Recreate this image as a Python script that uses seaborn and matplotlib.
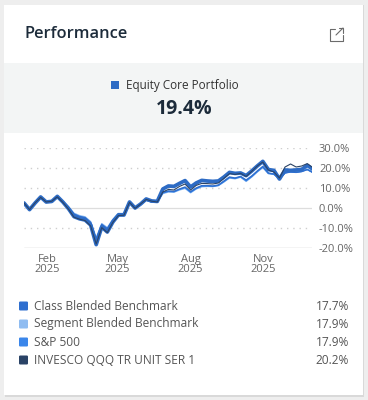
import pandas as pd
import numpy as np
import matplotlib.pyplot as plt
import matplotlib.dates as mdates
from matplotlib.patches import FancyBboxPatch, Rectangle
from matplotlib.lines import Line2D
import seaborn as sns

sns.set_theme(style="white")
plt.rcParams["font.family"] = ["Open Sans", "DejaVu Sans"]

W, H = 368, 400

# weekly cumulative returns (%)
dates = pd.date_range("2025-01-03", periods=53, freq="7D")

portfolio = [2.5, -0.8, 2.5, 5.5, 3.0, 3.3, 5.8, 3.0, -0.3, -4.3, -5.4, -6.0, -8.5,
             -18.3, -9.5, -12.0, -7.0, -3.5, -3.5, 3.0, 0.0, 2.0, 4.5, 3.5, 3.3, 9.5,
             11.0, 10.8, 12.3, 13.7, 10.5, 12.5, 13.8, 13.5, 13.3, 13.5, 15.5, 17.8, 17.3,
             17.5, 16.2, 18.5, 21.0, 23.3, 19.2, 18.8, 14.5, 19.0, 18.8, 19.0, 19.3, 21.3, 19.4]

qqq = [2.5, -0.8, 2.6, 5.3, 3.0, 3.4, 5.6, 2.8, -0.5, -4.6, -5.6, -6.3, -9.0,
       -18.0, -9.8, -12.3, -7.2, -3.8, -3.6, 2.8, -0.2, 2.0, 4.3, 3.4, 3.0, 8.0,
       9.3, 9.0, 10.8, 12.0, 9.0, 11.3, 12.3, 12.2, 12.0, 12.5, 14.8, 17.2, 16.8,
       17.3, 15.8, 18.3, 21.0, 23.0, 19.0, 18.0, 15.0, 20.5, 22.0, 20.5, 21.0, 22.2, 20.2]

class_bm = [2.5, -0.5, 2.5, 5.2, 3.2, 3.5, 5.5, 3.2, 0.5, -3.0, -4.2, -4.8, -7.2,
            -15.5, -8.2, -10.3, -6.0, -3.0, -3.0, 2.8, 0.0, 1.8, 4.0, 3.0, 3.0, 7.8,
            8.5, 8.3, 9.5, 10.5, 8.2, 10.0, 11.2, 11.2, 11.0, 11.5, 13.5, 15.5, 15.0,
            15.8, 14.0, 16.0, 18.5, 20.8, 17.5, 17.0, 14.5, 17.5, 18.0, 17.8, 18.2, 19.2, 17.7]

segment_bm = [2.5, -0.4, 2.6, 5.0, 3.3, 3.6, 5.3, 3.4, 0.8, -2.6, -3.8, -4.4, -6.8,
              -14.8, -7.8, -9.8, -5.6, -2.7, -2.8, 2.6, 0.2, 1.9, 3.8, 3.0, 3.1, 7.2,
              8.0, 7.9, 9.0, 9.8, 7.6, 9.5, 10.6, 10.8, 10.7, 11.2, 13.0, 15.0, 14.6,
              15.4, 13.3, 15.5, 18.0, 20.2, 17.2, 16.8, 14.8, 17.6, 18.2, 18.0, 18.4, 19.4, 17.9]

sp500 = [2.5, -0.6, 2.5, 5.1, 3.1, 3.4, 5.4, 3.1, 0.4, -3.2, -4.4, -5.0, -7.4,
         -15.8, -8.5, -10.6, -6.2, -3.1, -3.1, 2.7, 0.0, 1.8, 3.9, 2.9, 2.9, 7.5,
         8.3, 8.1, 9.3, 10.2, 7.9, 9.7, 10.9, 11.0, 10.8, 11.3, 13.2, 15.2, 14.8,
         15.6, 13.6, 15.7, 18.2, 20.5, 17.3, 16.9, 14.6, 17.6, 18.1, 17.9, 18.3, 19.3, 17.9]

names = ["Class Blended Benchmark", "Segment Blended Benchmark", "S&P 500",
         "INVESCO QQQ TR UNIT SER 1"]
final_values = ["17.7%", "17.9%", "17.9%", "20.2%"]
colors = ["#2f6fcf", "#8fbcf1", "#3a86ea", "#2a4366"]
port_color = "#2d6bc4"

fig = plt.figure(figsize=(W / 100, H / 100), dpi=100)
fig.patch.set_facecolor("#eeeeee")


def fx(x):
    return x / W


def fy(y):
    return 1 - y / H


# card with soft shadow
fig.patches.append(Rectangle((fx(5), fy(397)), fx(359), 392 / H,
                             transform=fig.transFigure, facecolor="#d9d9d9", edgecolor="none",
                             zorder=-2))
fig.patches.append(Rectangle((fx(4), fy(395)), fx(359), 390 / H,
                             transform=fig.transFigure, facecolor="white", edgecolor="none",
                             zorder=-1))
fig.patches.append(Rectangle((fx(4), fy(133)), fx(359), 70 / H, transform=fig.transFigure,
                             facecolor="#f3f5f5", edgecolor="none", zorder=-1))

fig.text(fx(24), fy(34), "Performance", fontsize=11.8, fontweight="semibold",
         color="#1c2b3a", va="center", ha="left")

# external link icon
icon = dict(color="#6b6b6b", lw=0.8, transform=fig.transFigure)
for xs, ys in [([335, 330, 330, 343, 343], [29, 29, 41, 41, 35]),
               ([336, 343], [35, 28]), ([338.5, 343, 343], [28, 28, 32.5])]:
    fig.lines.append(Line2D([fx(v) for v in xs], [fy(v) for v in ys], **icon))

fig.patches.append(Rectangle((fx(111), fy(89)), fx(8), 8 / H, transform=fig.transFigure,
                             facecolor=port_color, edgecolor="none"))
fig.text(fx(126), fy(85), "Equity Core Portfolio", fontsize=8.5, color="#333333",
         va="center", ha="left")
fig.text(fx(184.5), fy(108.5), "19.4%", fontsize=14, fontweight="bold", color="#1c2b3a",
         va="center", ha="center")

# chart
ax = fig.add_axes([fx(24), fy(248), fx(288), 100 / H])
ax.set_zorder(2)
ax.set_facecolor("none")
for v in [10, 20, 30, -10]:
    ax.axhline(v, color="#cfcfcf", lw=1.0, ls=(0, (1, 3.5)), zorder=0)
ax.axhline(0, color="#dddddd", lw=0.9, zorder=0)
ax.axhline(-20, color="#c8c8c8", lw=1.0, zorder=0)

sns.lineplot(x=dates, y=segment_bm, ax=ax, color=colors[1], lw=1.0)
sns.lineplot(x=dates, y=sp500, ax=ax, color=colors[2], lw=1.0)
sns.lineplot(x=dates, y=class_bm, ax=ax, color=colors[0], lw=1.0)
sns.lineplot(x=dates, y=portfolio, ax=ax, color=port_color, lw=2.7)
sns.lineplot(x=dates, y=qqq, ax=ax, color=colors[3], lw=0.8)

ax.set_xlim(dates[0], pd.Timestamp("2026-01-01"))
ax.set_ylim(-20, 30)
ax.yaxis.tick_right()
ax.set_yticks([30, 20, 10, 0, -10, -20])
ax.set_yticklabels([f"{v:.1f}%" for v in [30, 20, 10, 0, -10, -20]])
ax.xaxis.set_major_locator(mdates.MonthLocator(bymonth=[2, 5, 8, 11]))
ax.xaxis.set_major_formatter(mdates.DateFormatter("%b\n%Y"))
ax.tick_params(axis="both", length=0, labelsize=8, colors="#666666")
ax.tick_params(axis="y", pad=5)
ax.tick_params(axis="x", pad=4)
for lbl in ax.get_xticklabels():
    lbl.set_linespacing(0.95)
for s in ax.spines.values():
    s.set_visible(False)
ax.set_xlabel("")
ax.set_ylabel("")

# legend rows
for k, (name, val, c) in enumerate(zip(names, final_values, colors)):
    y = 306 + 18 * k
    fig.patches.append(FancyBboxPatch((fx(19), fy(y + 4.5)), fx(9), 9 / H,
                                      boxstyle="round,pad=0,rounding_size=0.003",
                                      transform=fig.transFigure, facecolor=c, edgecolor="none"))
    fig.text(fx(34), fy(y), name, fontsize=8.6, color="#555555", va="center", ha="left")
    fig.text(fx(349), fy(y), val, fontsize=8.6, color="#555555", va="center", ha="right")

fig.savefig("out.png", dpi=100, facecolor=fig.get_facecolor())
